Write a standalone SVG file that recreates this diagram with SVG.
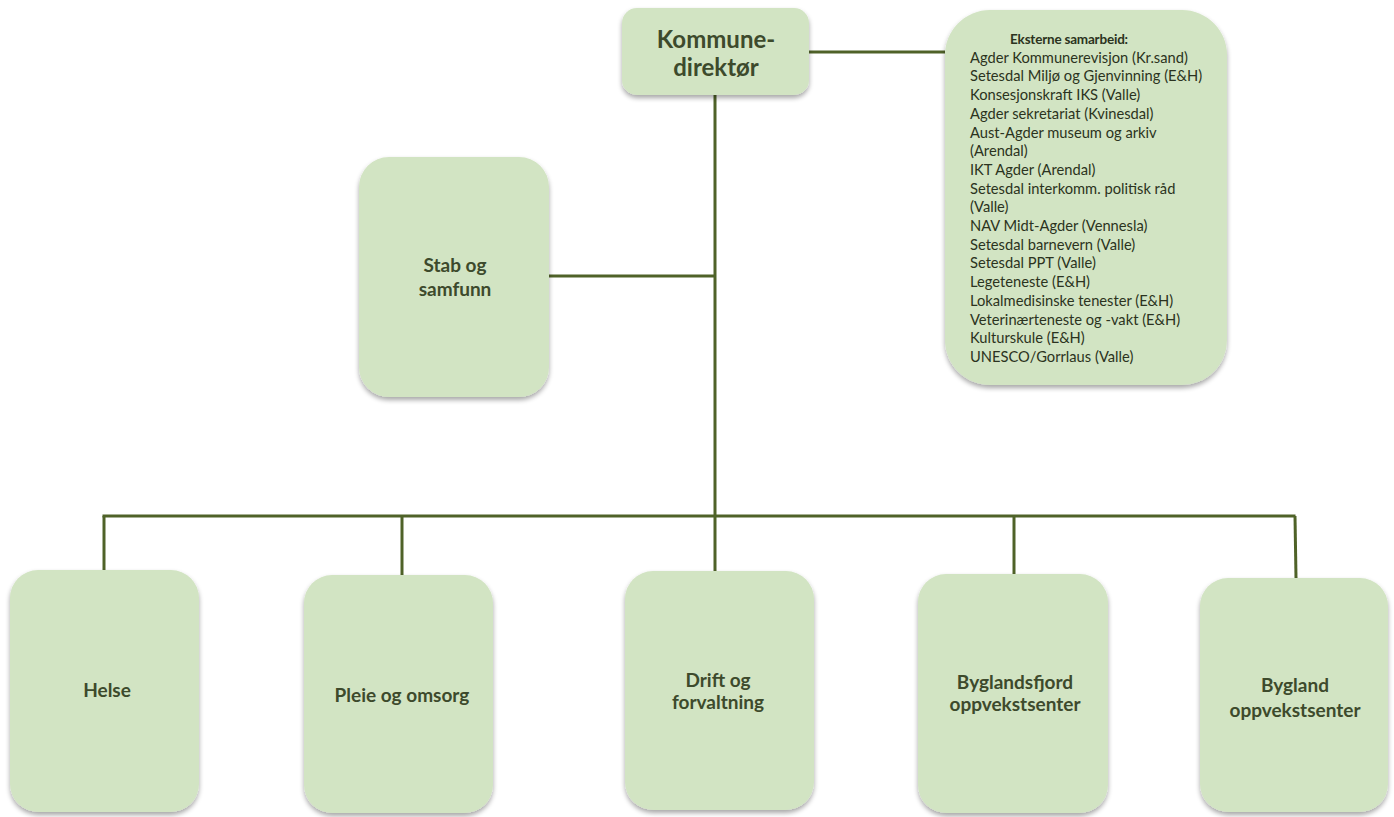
<svg xmlns="http://www.w3.org/2000/svg" width="1394" height="817" viewBox="0 0 1394 817">
<defs>
<filter id="sh" x="-10%" y="-10%" width="120%" height="120%">
<feGaussianBlur in="SourceAlpha" stdDeviation="2.5"/>
<feOffset dx="0" dy="3" result="b"/>
<feComponentTransfer><feFuncA type="linear" slope="0.35"/></feComponentTransfer>
<feMerge><feMergeNode/><feMergeNode in="SourceGraphic"/></feMerge>
</filter>
</defs>
<style>
.box{fill:#d2e4c3;filter:url(#sh)}
.t{font-family:Lato,"Liberation Sans",sans-serif;font-weight:bold;fill:#3d4a2c;text-anchor:middle;font-size:19px}
.big{font-size:24px}
.s{font-family:Lato,"Liberation Sans",sans-serif;fill:#2b3320;font-size:14.7px}
.sh{font-weight:bold;text-anchor:middle;font-size:13.5px;letter-spacing:-0.2px}
.c{stroke:#4f6228;stroke-width:3;fill:none}
</style>
<rect width="1394" height="817" fill="#ffffff"/>
<g id="connectors">
<line class="c" x1="809" y1="52" x2="945" y2="52"/>
<line class="c" x1="715" y1="95" x2="715" y2="571"/>
<line class="c" x1="549" y1="276" x2="715" y2="276"/>
<line class="c" x1="102.5" y1="516" x2="1295.5" y2="516"/>
<line class="c" x1="104" y1="516" x2="104" y2="570"/>
<line class="c" x1="402" y1="516" x2="402" y2="575"/>
<line class="c" x1="1014" y1="516" x2="1014" y2="574"/>
<line class="c" x1="1295" y1="516" x2="1296" y2="578"/>
</g>
<g id="kommunedirektor">
<rect class="box" x="622" y="8" width="187" height="87" rx="15"/>
<text class="t big" x="716" y="48">Kommune-</text>
<text class="t big" x="716" y="76">direktør</text>
</g>
<g id="eksterne">
<rect class="box" x="945" y="10" width="282" height="375" rx="45"/>
<text class="s sh" x="1069" y="44">Eksterne samarbeid:</text>
<text class="s" x="970" y="62.7">Agder Kommunerevisjon (Kr.sand)</text>
<text class="s" x="970" y="81.4">Setesdal Miljø og Gjenvinning (E&amp;H)</text>
<text class="s" x="970" y="100.1">Konsesjonskraft IKS (Valle)</text>
<text class="s" x="970" y="118.8">Agder sekretariat (Kvinesdal)</text>
<text class="s" x="970" y="137.5">Aust-Agder museum og arkiv</text>
<text class="s" x="970" y="156.2">(Arendal)</text>
<text class="s" x="970" y="174.9">IKT Agder (Arendal)</text>
<text class="s" x="970" y="193.6">Setesdal interkomm. politisk råd</text>
<text class="s" x="970" y="212.3">(Valle)</text>
<text class="s" x="970" y="231">NAV Midt-Agder (Vennesla)</text>
<text class="s" x="970" y="249.7">Setesdal barnevern (Valle)</text>
<text class="s" x="970" y="268.4">Setesdal PPT (Valle)</text>
<text class="s" x="970" y="287.1">Legeteneste (E&amp;H)</text>
<text class="s" x="970" y="305.8">Lokalmedisinske tenester (E&amp;H)</text>
<text class="s" x="970" y="324.5">Veterinærteneste og -vakt (E&amp;H)</text>
<text class="s" x="970" y="343.2">Kulturskule (E&amp;H)</text>
<text class="s" x="970" y="361.9">UNESCO/Gorrlaus (Valle)</text>
</g>
<g id="stab">
<rect class="box" x="359" y="157" width="190" height="240" rx="30"/>
<text class="t" x="455" y="272">Stab og</text>
<text class="t" x="455" y="296">samfunn</text>
</g>
<g id="helse">
<rect class="box" x="10" y="570" width="189" height="242" rx="28"/>
<text class="t" x="107" y="697">Helse</text>
</g>
<g id="pleie">
<rect class="box" x="304" y="575" width="189" height="238" rx="28"/>
<text class="t" x="402" y="702">Pleie og omsorg</text>
</g>
<g id="drift">
<rect class="box" x="625" y="571" width="189" height="239" rx="28"/>
<text class="t" x="718" y="687">Drift og</text>
<text class="t" x="718" y="709">forvaltning</text>
</g>
<g id="byglandsfjord">
<rect class="box" x="918" y="574" width="190" height="239" rx="28"/>
<text class="t" x="1015" y="689">Byglandsfjord</text>
<text class="t" x="1015" y="711">oppvekstsenter</text>
</g>
<g id="bygland">
<rect class="box" x="1200" y="578" width="188" height="234" rx="28"/>
<text class="t" x="1295" y="692">Bygland</text>
<text class="t" x="1295" y="717">oppvekstsenter</text>
</g>
</svg>
